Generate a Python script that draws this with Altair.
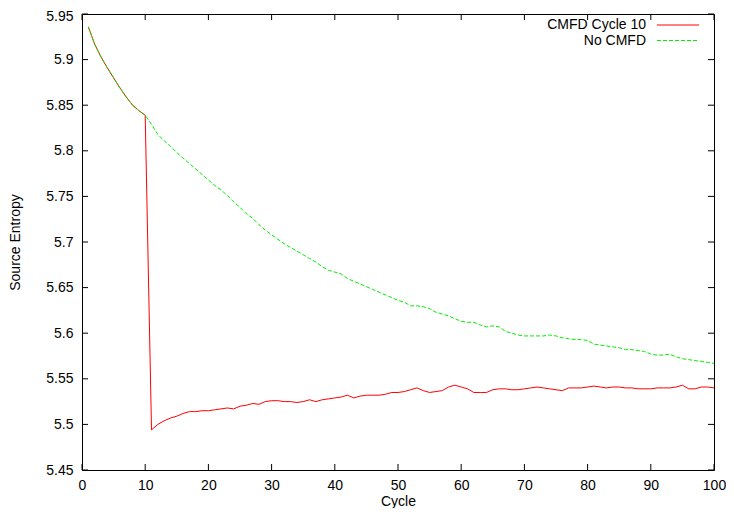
import altair as alt
import pandas as pd

# ---- data ----
cycles = list(range(1, 101))
common = [5.936, 5.917, 5.903, 5.891, 5.880, 5.869, 5.859, 5.850, 5.844, 5.839]
red_tail = [
    5.494, 5.500, 5.504, 5.507, 5.509, 5.512, 5.514, 5.514, 5.515, 5.515,
    5.516, 5.517, 5.518, 5.517, 5.520, 5.521, 5.523, 5.522, 5.525, 5.526,
    5.526, 5.525, 5.525, 5.524, 5.525, 5.527, 5.525, 5.527, 5.528, 5.529,
    5.530, 5.532, 5.529, 5.531, 5.532, 5.532, 5.532, 5.533, 5.535, 5.535,
    5.536, 5.538, 5.540, 5.537, 5.535, 5.536, 5.537, 5.541, 5.543, 5.541,
    5.539, 5.535, 5.535, 5.535, 5.538, 5.539, 5.539, 5.538, 5.538, 5.539,
    5.540, 5.541, 5.540, 5.539, 5.538, 5.537, 5.540, 5.540, 5.540, 5.541,
    5.542, 5.541, 5.540, 5.541, 5.541, 5.540, 5.540, 5.539, 5.539, 5.539,
    5.540, 5.540, 5.540, 5.541, 5.543, 5.539, 5.539, 5.541, 5.541, 5.540,
]
green_tail = [
    5.829, 5.818, 5.811, 5.805, 5.798, 5.792, 5.786, 5.780, 5.774, 5.768,
    5.762, 5.757, 5.751, 5.744, 5.738, 5.731, 5.726, 5.719, 5.713, 5.708,
    5.703, 5.698, 5.694, 5.690, 5.686, 5.682, 5.678, 5.673, 5.669, 5.667,
    5.665, 5.660, 5.657, 5.654, 5.651, 5.648, 5.645, 5.642, 5.639, 5.636,
    5.634, 5.630, 5.630, 5.629, 5.627, 5.623, 5.621, 5.619, 5.616, 5.613,
    5.612, 5.612, 5.609, 5.607, 5.608, 5.607, 5.602, 5.600, 5.598, 5.597,
    5.597, 5.597, 5.597, 5.598, 5.597, 5.595, 5.594, 5.593, 5.593, 5.592,
    5.588, 5.587, 5.586, 5.585, 5.584, 5.582, 5.582, 5.581, 5.580, 5.577,
    5.576, 5.576, 5.577, 5.574, 5.572, 5.571, 5.570, 5.569, 5.568, 5.567,
]
red_vals = common + red_tail
green_vals = common + green_tail
series_names = ["CMFD Cycle 10", "No CMFD"]
x_ticks = [0, 10, 20, 30, 40, 50, 60, 70, 80, 90, 100]
y_ticks = [5.45, 5.5, 5.55, 5.6, 5.65, 5.7, 5.75, 5.8, 5.85, 5.9, 5.95]

W, H = 632, 456
FONT = "Liberation Sans"

red_df = pd.DataFrame({"Cycle": cycles, "Entropy": red_vals})
green_df = pd.DataFrame({"Cycle": cycles, "Entropy": green_vals})
xt_df = pd.DataFrame({"v": x_ticks})
yt_df = pd.DataFrame({"v": y_ticks})

xscale = alt.Scale(domain=[0, 100], nice=False, zero=False)
yscale = alt.Scale(domain=[5.45, 5.95], nice=False, zero=False)

x_axis = alt.Axis(values=x_ticks, ticks=False, domain=False, grid=False, labelFlush=False,
                  labelPadding=8, labelFontSize=14, labelFont=FONT, labelColor="black",
                  title="Cycle", titleFontSize=14, titleFont=FONT, titleFontWeight="normal",
                  titleX=W / 2, titleY=31, titleBaseline="middle", titleColor="black")
y_axis = alt.Axis(values=y_ticks, ticks=False, domain=False, grid=False,
                  labelPadding=9, labelFontSize=14, labelFont=FONT, labelColor="black",
                  labelExpr="format(datum.value, '.2~f')",
                  labelOffset={"condition": {"test": "datum.value > 5.949", "value": 2}, "value": 0},
                  title="Source Entropy", titleFontSize=14, titleFont=FONT, titleFontWeight="normal",
                  titleX=-67, titleY=H / 2, titleBaseline="middle", titleAlign="center",
                  titleColor="black")

red_line = alt.Chart(red_df).mark_line(color="#ff0000", strokeWidth=1).encode(
    x=alt.X("Cycle:Q", scale=xscale, axis=x_axis),
    y=alt.Y("Entropy:Q", scale=yscale, axis=y_axis),
)
green_line = alt.Chart(green_df).mark_line(color="#00ee00", strokeWidth=1, strokeDash=[4, 2]).encode(
    x=alt.X("Cycle:Q", scale=xscale),
    y=alt.Y("Entropy:Q", scale=yscale),
)

TL = 6
xb = alt.Chart(xt_df).mark_rule(color="black", strokeWidth=1).encode(
    x=alt.X("v:Q", scale=xscale), y=alt.value(H), y2=alt.value(H - TL))
xtp = alt.Chart(xt_df).mark_rule(color="black", strokeWidth=1).encode(
    x=alt.X("v:Q", scale=xscale), y=alt.value(0), y2=alt.value(TL))
yl = alt.Chart(yt_df).mark_rule(color="black", strokeWidth=1).encode(
    y=alt.Y("v:Q", scale=yscale), x=alt.value(0), x2=alt.value(TL))
yr = alt.Chart(yt_df).mark_rule(color="black", strokeWidth=1).encode(
    y=alt.Y("v:Q", scale=yscale), x=alt.value(W - TL), x2=alt.value(W))

leg_df1 = pd.DataFrame({"label": [series_names[0]]})
leg_df2 = pd.DataFrame({"label": [series_names[1]]})
leg_text1 = alt.Chart(leg_df1).mark_text(align="right", baseline="middle", fontSize=14, font=FONT,
                                         color="black").encode(
    text="label:N", x=alt.value(564), y=alt.value(11))
leg_text2 = alt.Chart(leg_df2).mark_text(align="right", baseline="middle", fontSize=14, font=FONT,
                                         color="black").encode(
    text="label:N", x=alt.value(564), y=alt.value(26.5))
leg_line1 = alt.Chart(leg_df1).mark_rule(color="#ff0000", strokeWidth=1).encode(
    x=alt.value(575), x2=alt.value(617), y=alt.value(11))
leg_line2 = alt.Chart(leg_df2).mark_rule(color="#00ee00", strokeWidth=1, strokeDash=[4, 2]).encode(
    x=alt.value(575), x2=alt.value(617), y=alt.value(26.5))

chart = alt.layer(
    red_line, green_line, xb, xtp, yl, yr, leg_text1, leg_text2, leg_line1, leg_line2
).properties(
    width=W, height=H,
    autosize=alt.AutoSizeParams(type="none"),
    padding={"left": 74, "top": 6, "right": 12, "bottom": 38},
    background="white",
).configure_view(stroke="black", strokeWidth=1)

chart.save("out.html", embed_options={"renderer": "svg", "actions": False})
